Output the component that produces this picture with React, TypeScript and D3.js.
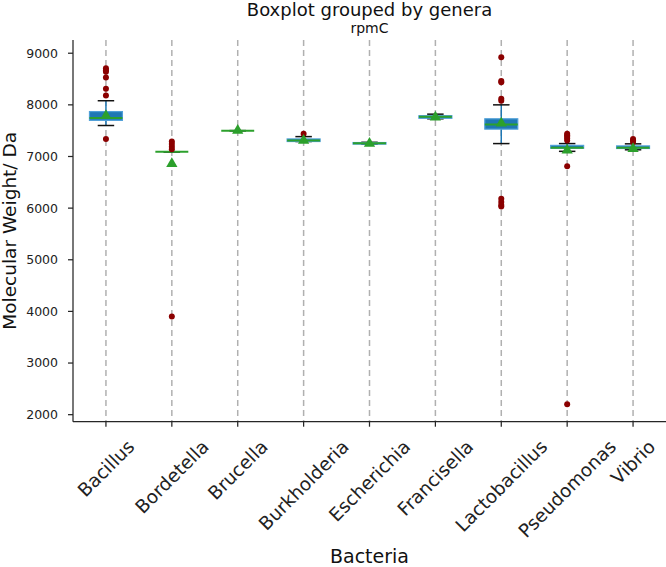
import * as d3 from "d3";
import { useEffect, useRef } from "react";

// genera along the x axis
const genera = ["Bacillus", "Bordetella", "Brucella", "Burkholderia", "Escherichia", "Francisella", "Lactobacillus", "Pseudomonas", "Vibrio"];

// box statistics (Da)
const whiskerLow = [7600, 7090, 7500, 7290, 7240, 7730, 7250, 7100, 7130];
const q1 = [7700, 7090, 7500, 7290, 7240, 7740, 7530, 7160, 7155];
const median = [7745, 7090, 7500, 7310, 7258, 7770, 7620, 7170, 7170];
const q3 = [7870, 7090, 7500, 7340, 7270, 7790, 7730, 7215, 7205];
const whiskerHigh = [8080, 7090, 7500, 7385, 7275, 7820, 8000, 7250, 7245];
const means = [7790, 6860, 7505, 7310, 7250, 7760, 7645, 7120, 7150];
const fliers = [
    [8710, 8670, 8640, 8530, 8310, 8180, 7340],
    [7290, 7240, 7190, 7140, 3900],
    [],
    [7440],
    [],
    [],
    [8920, 8460, 8440, 8120, 8080, 6180, 6120, 6060, 6030],
    [7440, 7410, 7380, 7350, 7310, 6810, 2200],
    [7340, 7310, 7280],
];

const yTicks = [2000, 3000, 4000, 5000, 6000, 7000, 8000, 9000];

export default function App() {
    const svgRef = useRef(null);
    const width = 666;
    const height = 567;
    const left = 73, right = 666, top = 40, bottom = 421.7;

    useEffect(() => {
        const svg = d3.select(svgRef.current);
        svg.selectAll("*").remove();

        const x = d3.scaleLinear().domain([0.5, genera.length + 0.5]).range([left, right]);
        const y = d3.scaleLinear().domain([1864, 9256]).range([bottom, top]);
        const boxW = (x(1) - x(0)) * 0.5;
        const capW = boxW * 0.5;
        const font = "DejaVu Sans";

        // dashed vertical grid
        svg.append("g")
            .selectAll("line")
            .data(genera)
            .join("line")
            .attr("x1", (d, i) => x(i + 1))
            .attr("x2", (d, i) => x(i + 1))
            .attr("y1", top)
            .attr("y2", bottom)
            .attr("stroke", "#b0b0b0")
            .attr("stroke-width", 1.5)
            .attr("stroke-dasharray", "6,4");

        const g = svg.append("g");
        const idx = d3.range(genera.length);

        // whiskers
        g.selectAll(".wlo").data(idx).join("line")
            .attr("x1", i => x(i + 1)).attr("x2", i => x(i + 1))
            .attr("y1", i => y(q1[i])).attr("y2", i => y(whiskerLow[i]))
            .attr("stroke", "#1f77b4").attr("stroke-width", 1.5);
        g.selectAll(".whi").data(idx).join("line")
            .attr("x1", i => x(i + 1)).attr("x2", i => x(i + 1))
            .attr("y1", i => y(q3[i])).attr("y2", i => y(whiskerHigh[i]))
            .attr("stroke", "#1f77b4").attr("stroke-width", 1.5);

        // caps
        for (const arr of [whiskerLow, whiskerHigh]) {
            g.append("g").selectAll("line").data(idx).join("line")
                .attr("x1", i => x(i + 1) - capW / 2).attr("x2", i => x(i + 1) + capW / 2)
                .attr("y1", i => y(arr[i])).attr("y2", i => y(arr[i]))
                .attr("stroke", "#111").attr("stroke-width", 1.5);
        }

        // boxes
        g.append("g").selectAll("rect").data(idx).join("rect")
            .attr("x", i => x(i + 1) - boxW / 2)
            .attr("y", i => y(q3[i]))
            .attr("width", boxW)
            .attr("height", i => Math.max(0, y(q1[i]) - y(q3[i])))
            .attr("fill", "#1f77b4")
            .attr("stroke", "#4f9fd8")
            .attr("stroke-width", 1.2);

        // medians
        g.append("g").selectAll("line").data(idx).join("line")
            .attr("x1", i => x(i + 1) - boxW / 2).attr("x2", i => x(i + 1) + boxW / 2)
            .attr("y1", i => y(median[i])).attr("y2", i => y(median[i]))
            .attr("stroke", "#2ca02c").attr("stroke-width", 2);

        // fliers
        const flierPts = fliers.flatMap((arr, i) => arr.map(v => [i + 1, v]));
        g.append("g").selectAll("circle").data(flierPts).join("circle")
            .attr("cx", d => x(d[0]))
            .attr("cy", d => y(d[1]))
            .attr("r", 3)
            .attr("fill", "#8b0000");

        // means
        const tri = d3.symbol().type(d3.symbolTriangle).size(55);
        g.append("g").selectAll("path").data(idx).join("path")
            .attr("d", tri)
            .attr("transform", i => `translate(${x(i + 1)},${y(means[i])})`)
            .attr("fill", "#2ca02c");

        // spines
        svg.append("line")
            .attr("x1", left).attr("x2", left).attr("y1", top).attr("y2", bottom)
            .attr("stroke", "#262626").attr("stroke-width", 1.25);
        svg.append("line")
            .attr("x1", left).attr("x2", right).attr("y1", bottom).attr("y2", bottom)
            .attr("stroke", "#262626").attr("stroke-width", 1.25);

        // y ticks
        const yt = svg.append("g");
        yt.selectAll("line").data(yTicks).join("line")
            .attr("x1", left - 5).attr("x2", left)
            .attr("y1", d => y(d)).attr("y2", d => y(d))
            .attr("stroke", "#262626").attr("stroke-width", 1.25);
        yt.selectAll("text").data(yTicks).join("text")
            .attr("x", left - 15)
            .attr("y", d => y(d))
            .attr("dy", "0.35em")
            .attr("text-anchor", "end")
            .attr("font-family", font)
            .attr("font-size", 12.5)
            .attr("fill", "#222")
            .text(d => d);

        // x ticks
        const xt = svg.append("g");
        xt.selectAll("line").data(genera).join("line")
            .attr("x1", (d, i) => x(i + 1)).attr("x2", (d, i) => x(i + 1))
            .attr("y1", bottom).attr("y2", bottom + 5)
            .attr("stroke", "#262626").attr("stroke-width", 1.25);
        const labelTop = bottom + 14;
        const fs = 18.5;
        xt.selectAll("text").data(genera).join("text")
            .attr("font-family", font)
            .attr("font-size", fs)
            .attr("fill", "#222")
            .attr("text-anchor", "middle")
            .attr("dy", "0.35em")
            .text(d => d)
            .each(function (d, i) {
                const w = this.getComputedTextLength();
                const h = (w + fs * 1.16) * Math.SQRT1_2;
                d3.select(this).attr("transform", `translate(${x(i + 1)},${labelTop + h / 2}) rotate(-45)`);
            });

        // titles
        svg.append("text")
            .attr("x", (left + right) / 2).attr("y", 16)
            .attr("text-anchor", "middle")
            .attr("font-family", font).attr("font-size", 18).attr("fill", "#111")
            .text("Boxplot grouped by genera");
        svg.append("text")
            .attr("x", (left + right) / 2).attr("y", 33)
            .attr("text-anchor", "middle")
            .attr("font-family", font).attr("font-size", 14).attr("fill", "#111")
            .text("rpmC");
        svg.append("text")
            .attr("x", (left + right) / 2).attr("y", 563)
            .attr("text-anchor", "middle")
            .attr("font-family", font).attr("font-size", 19).attr("fill", "#111")
            .text("Bacteria");
        svg.append("text")
            .attr("transform", `translate(16,${(top + bottom) / 2}) rotate(-90)`)
            .attr("text-anchor", "middle")
            .attr("font-family", font).attr("font-size", 18.5).attr("fill", "#111")
            .text("Molecular Weight/ Da");
    }, []);

    return <svg ref={svgRef} width={width} height={height}
        style={{ position: "absolute", left: 0, top: 0, background: "#fff" }} />;
}
